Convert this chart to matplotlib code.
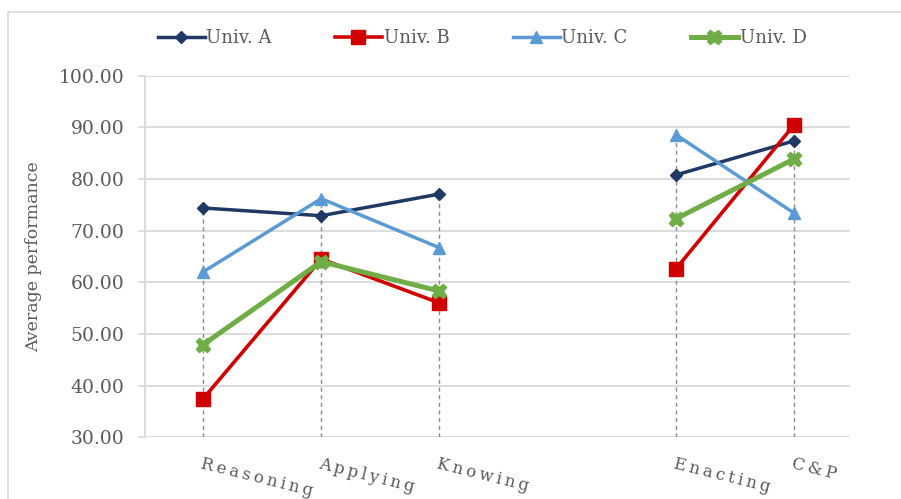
import numpy as np
import matplotlib.pyplot as plt
from matplotlib.patches import Rectangle

# ---- data ----
categories = ['Reasoning', 'Applying', 'Knowing', '', 'Enacting', 'C&P']
univ_a = [74.4, 72.9, 77.1, np.nan, 80.8, 87.4]
univ_b = [37.4, 64.5, 56.0, np.nan, 62.6, 90.5]
univ_c = [62.0, 76.2, 66.7, np.nan, 88.6, 73.4]
univ_d = [47.9, 64.0, 58.3, np.nan, 72.3, 83.9]
series_names = ['Univ. A', 'Univ. B', 'Univ. C', 'Univ. D']
y_ticks = [30, 40, 50, 60, 70, 80, 90, 100]

# ---- styling ----
colors = ['#1F3864', '#D00000', '#5B9BD5', '#70AD47']
markers = ['D', 's', '^', 'X']
msizes = [6, 9.5, 8.5, 10.5]
lwidths = [2.5, 2.6, 2.5, 3.6]
text_col = '#595959'
grid_col = '#D9D9D9'

plt.rcParams['font.family'] = ['DejaVu Serif']

fig = plt.figure(figsize=(9.01, 4.99), dpi=100)
ax = fig.add_axes([0.161, 0.124, 0.782, 0.724])

# outer chart border
fig.patches.append(Rectangle((0.009, -0.01), 1.0, 0.986, transform=fig.transFigure,
                             fill=False, edgecolor='#D9D9D9', lw=1.2))

x = np.arange(len(categories))
data = [univ_a, univ_b, univ_c, univ_d]

# drop lines from the highest point down to the axis
tops = np.nanmax(np.array(data), axis=0)
for xi, top, cat in zip(x, tops, categories):
    if cat:
        ax.vlines(xi, 30, top, colors='#8C8C8C', linestyles=(0, (3, 2.5)), lw=1.0, zorder=2)

for vals, name, c, m, ms, lw in zip(data, series_names, colors, markers, msizes, lwidths):
    ax.plot(x, vals, color=c, marker=m, markersize=ms, lw=lw, label=name,
            markeredgecolor=c, markeredgewidth=1.0, zorder=3)

ax.set_xlim(-0.49, 5.47)
ax.set_ylim(30, 100)
ax.set_yticks(y_ticks)
ax.set_yticklabels([f'{v:.2f}' for v in y_ticks], fontsize=13.5, color=text_col)
ax.yaxis.grid(True, color=grid_col, lw=1.3)
ax.set_axisbelow(True)

ax.set_xticks([])
for xi, cat in zip(x, categories):
    if cat:
        spaced = '\u2009'.join(cat)
        ax.text(xi, 26.5, spaced, rotation=-14, rotation_mode='anchor',
                ha='left', va='top', fontsize=12, color=text_col)

for side in ['top', 'right', 'bottom']:
    ax.spines[side].set_visible(False)
ax.spines['left'].set_color(grid_col)
ax.spines['left'].set_linewidth(1.3)
ax.tick_params(axis='y', length=5, color=grid_col, width=1.3, pad=10)

ax.set_ylabel('Average performance', fontsize=12.5, color=text_col, labelpad=12)

fig.legend(loc='center', bbox_to_anchor=(0.535, 0.924), ncol=4, frameon=False,
           fontsize=13, handlelength=2.6, columnspacing=3.5, handletextpad=0.1,
           labelcolor=text_col)

fig.savefig('out.png', dpi=100)
